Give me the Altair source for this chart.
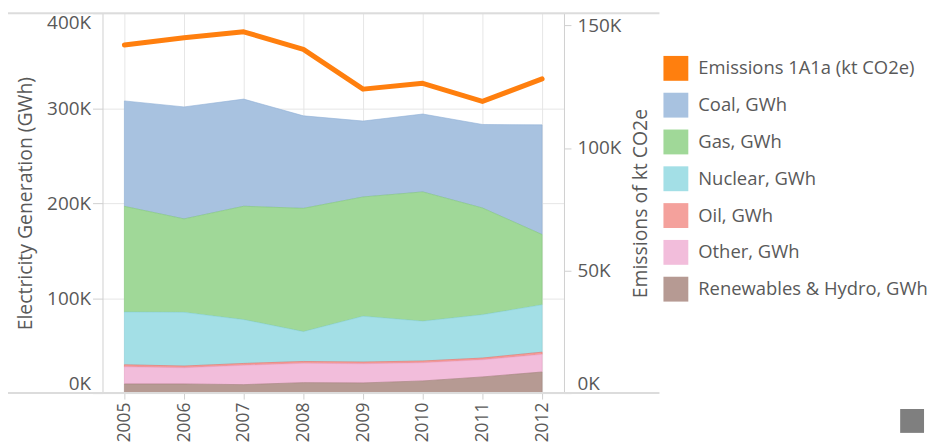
import altair as alt
import pandas as pd

# ---- data (GWh in thousands, emissions in kt CO2e thousands) ----
years = [2005, 2006, 2007, 2008, 2009, 2010, 2011, 2012]
coal = [111.0, 117.9, 112.8, 97.4, 79.9, 82.0, 87.9, 115.5]
gas = [111.3, 98.4, 119.4, 129.8, 125.6, 136.1, 112.4, 74.0]
nuclear = [55.5, 56.5, 46.1, 31.4, 48.2, 41.9, 45.6, 49.8]
oil = [2.1, 1.8, 1.9, 1.9, 1.8, 1.8, 1.8, 2.3]
other = [18.1, 17.1, 20.4, 20.4, 20.2, 19.2, 18.1, 18.6]
renewables = [9.6, 9.6, 8.9, 11.0, 10.7, 12.8, 17.0, 22.2]
emissions = [142.0, 145.0, 147.4, 140.2, 124.0, 126.4, 119.0, 128.2]

names = ["Emissions 1A1a (kt CO2e)", "Coal, GWh", "Gas, GWh", "Nuclear, GWh",
         "Oil, GWh", "Other, GWh", "Renewables & Hydro, GWh"]
fill_colors = ["#ff7f0e", "#a8c2e0", "#a0d898", "#a3dfe6", "#f4a19c", "#f2bddb", "#b69a93"]
stroke_colors = ["#ff7f0e", "#8fb0d6", "#84c97a", "#89d2dc", "#ec6d67", "#e9a2c8", "#a2857d"]

series_vals = [coal, gas, nuclear, oil, other, renewables]
series_names = names[1:]
stack_order = [5, 4, 3, 2, 1, 0]

rows = []
for nm, vals, o in zip(series_names, series_vals, stack_order):
    for y, v in zip(years, vals):
        rows.append({"year": y, "series": nm, "value": v * 1000, "ord": o})
area_df = pd.DataFrame(rows)
line_df = pd.DataFrame({"year": years, "emissions": [e * 1000 for e in emissions]})
one = pd.DataFrame({"a": [0]})

FONT = "Open Sans"
TXT = "#595959"
W, H = 464, 382

x_enc = alt.X(
    "year:O",
    scale=alt.Scale(type="point", padding=0.367),
    axis=alt.Axis(title=None, labelAngle=270, grid=True, gridColor="#e6e6e6",
                  domain=False, tickColor="#cfcfcf", tickSize=6, labelPadding=3,
                  labelFont=FONT, labelFontSize=17.5, labelColor=TXT),
)

areas = alt.Chart(area_df).mark_area(opacity=1, strokeWidth=1, strokeOpacity=0.6).encode(
    x=x_enc,
    y=alt.Y("value:Q", stack="zero",
            scale=alt.Scale(domain=[0, 400000], nice=False),
            axis=alt.Axis(title="Electricity Generation (GWh)", values=[0, 100000, 200000, 300000, 400000],
                          labelExpr="format(datum.value/1000, 'd') + 'K'",
                          labelFlush=True, gridColor="#e6e6e6", domainColor="#d0d0d0",
                          tickColor="#d0d0d0", tickSize=10, labelPadding=2,
                          labelFont=FONT, labelFontSize=19, labelColor=TXT,
                          titleFont=FONT, titleFontSize=19.5, titleColor=TXT,
                          titleFontWeight="normal", titlePadding=11)),
    fill=alt.Fill("series:N", scale=alt.Scale(domain=names, range=fill_colors),
                  legend=alt.Legend(title=None, orient="none", legendX=564, legendY=43,
                                    symbolType="square", symbolSize=625, symbolStrokeWidth=0,
                                    symbolOpacity=1, labelFont=FONT, labelFontSize=18.5,
                                    labelColor=TXT, labelOffset=10, rowPadding=12, padding=0,
                                    labelLimit=400)),
    stroke=alt.Stroke("series:N", scale=alt.Scale(domain=names, range=stroke_colors), legend=None),
    order=alt.Order("ord:Q"),
)

line = alt.Chart(line_df).mark_line(color="#ff7f0e", strokeWidth=5, strokeCap="round", strokeJoin="round").encode(
    x=x_enc,
    y=alt.Y("emissions:Q",
            scale=alt.Scale(domain=[0, 155000], nice=False),
            axis=alt.Axis(orient="right", title="Emissions of kt CO2e", values=[0, 50000, 100000, 150000],
                          labelExpr="format(datum.value/1000, 'd') + 'K'",
                          labelFlush=True, grid=False, domainColor="#d0d0d0",
                          tickColor="#d0d0d0", tickSize=7, labelPadding=6,
                          labelFont=FONT, labelFontSize=19, labelColor=TXT,
                          titleFont=FONT, titleFontSize=19.5, titleColor=TXT, titleAngle=270,
                          titleBaseline="top", titleFontWeight="normal", titlePadding=11)),
)

top_rule = alt.Chart(one).mark_rule(color="#dcdcdc", strokeWidth=2).encode(
    x=alt.value(-95), x2=alt.value(560), y=alt.value(0))
bottom_rule = alt.Chart(one).mark_rule(color="#dcdcdc", strokeWidth=2).encode(
    x=alt.value(-95), x2=alt.value(560), y=alt.value(H))
square = alt.Chart(one).mark_rect(color="#7f7f7f").encode(
    x=alt.value(802), x2=alt.value(826), y=alt.value(398), y2=alt.value(422))

chart = alt.layer(areas, line, top_rule, bottom_rule, square).resolve_scale(
    y="independent"
).properties(
    width=W, height=H,
    autosize=alt.AutoSizeParams(type="none"),
    padding={"left": 95, "top": 4, "right": 368, "bottom": 52},
).configure_view(stroke=None)

chart.save("out.html", embed_options={"renderer": "svg", "actions": False})
